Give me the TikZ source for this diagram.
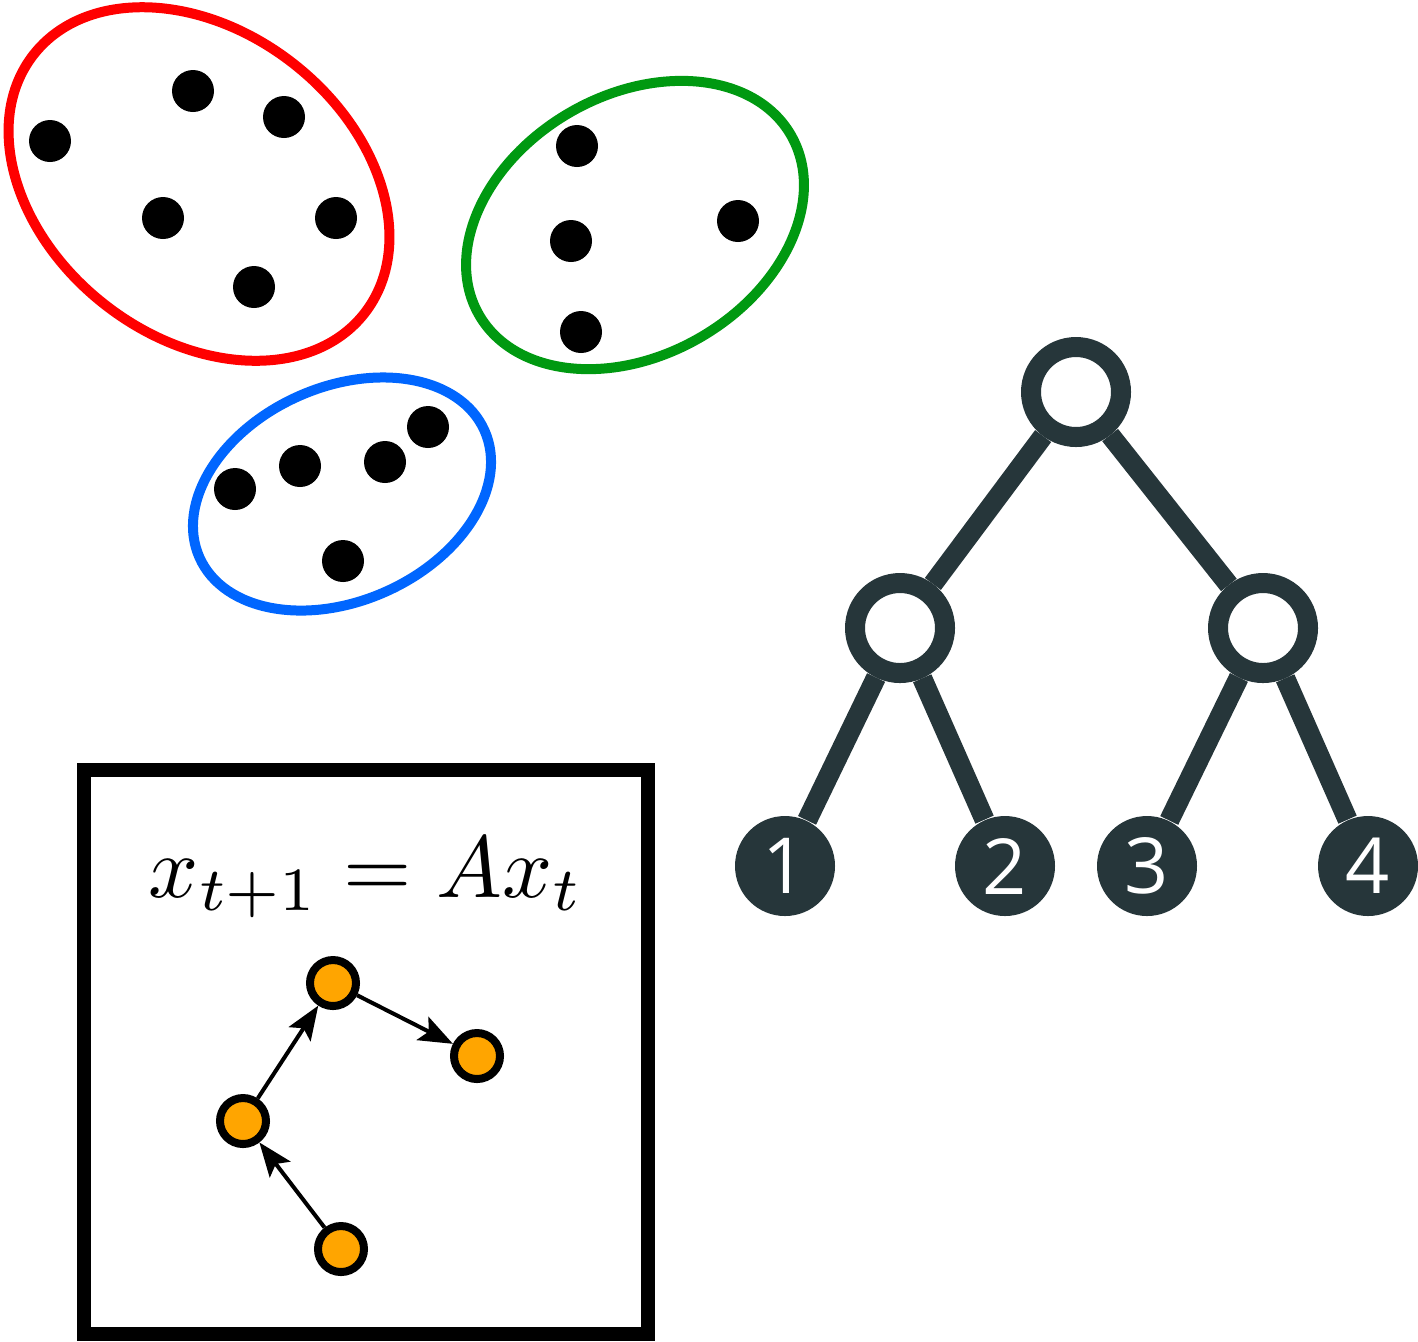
\documentclass[tikz,border=0pt]{standalone}
\usepackage{fontspec}
\newfontfamily\leaffont{Open Sans}
\usetikzlibrary{positioning,arrows.meta,calc}
\definecolor{clred}{RGB}{255,0,0}
\definecolor{clgreen}{RGB}{0,153,17}
\definecolor{clblue}{RGB}{0,102,255}
\definecolor{treegray}{RGB}{38,54,58}
\definecolor{stateorange}{RGB}{255,165,0}
\tikzset{
  cluster/.style={line width=0.1cm},
  pt/.style={circle, fill=black, inner sep=0pt, minimum size=0.42cm},
  inode/.style={circle, draw=treegray, fill=white, line width=0.2cm,
                inner sep=0pt, minimum size=0.9cm},
  leaf/.style={circle, fill=treegray, inner sep=0pt, minimum size=1cm,
               text=white, font=\leaffont\fontsize{22}{24}\selectfont},
  tedge/.style={draw=treegray, line width=0.2cm},
  state/.style={circle, draw=black, fill=stateorange, line width=0.08cm,
                inner sep=0pt, minimum size=0.46cm},
  trans/.style={-{Stealth[length=0.34cm,width=0.26cm,inset=0.07cm]}, line width=0.04cm},
}

\begin{document}
\begin{tikzpicture}
    \useasboundingbox (0,0) rectangle (14.18,-13.41);

      % clusters
      \draw[cluster,clred] (1.99,-1.84) ellipse[x radius=2.1, y radius=1.53, rotate=-38];
      \draw[cluster,clgreen] (6.35,-2.25) ellipse[x radius=1.8, y radius=1.3, rotate=30];
      \draw[cluster,clblue] (3.42,-4.94) ellipse[x radius=1.56, y radius=1.07, rotate=24];

      \foreach \x/\y [count=\i] in {0.50/1.41, 1.93/0.91, 2.84/1.17, 1.63/2.18, 3.36/2.18, 2.54/2.87}
        \node[pt] (r\i) at (\x,-\y) {};
      \foreach \x/\y [count=\i] in {5.77/1.46, 7.38/2.21, 5.71/2.41, 5.81/3.32}
        \node[pt] (g\i) at (\x,-\y) {};
      \foreach \x/\y [count=\i] in {2.35/4.89, 3.00/4.66, 3.85/4.62, 4.28/4.27, 3.43/5.61}
        \node[pt] (b\i) at (\x,-\y) {};

      % tree
      \node[inode] (root) at (10.76,-3.92) {};
      \node[inode] (left) at (9.00,-6.28) {};
      \node[inode] (right) at (12.63,-6.28) {};
      \node[leaf] (l1) at (7.85,-8.66) {1};
      \node[leaf] (l2) at (10.05,-8.66) {2};
      \node[leaf] (l3) at (11.47,-8.66) {3};
      \node[leaf] (l4) at (13.68,-8.66) {4};

      \draw[tedge] (root) -- (left);
      \draw[tedge] (root) -- (right);
      \draw[tedge] (left) -- (l1);
      \draw[tedge] (left) -- (l2);
      \draw[tedge] (right) -- (l3);
      \draw[tedge] (right) -- (l4);

      % dynamics box
      \draw[line width=0.14cm] (0.84,-7.70) rectangle (6.48,-13.34);
      \node[scale=2.5] (eq) at (3.66,-8.78) {$x_{t+1} = Ax_t$};

      \node[state] (s1) at (3.41,-12.49) {};
      \node[state] (s2) at (2.43,-11.21) {};
      \node[state] (s3) at (3.33,-9.83) {};
      \node[state] (s4) at (4.77,-10.56) {};

      \draw[trans] (s1) -- (s2);
      \draw[trans] (s2) -- (s3);
      \draw[trans] (s3) -- (s4);

    \end{tikzpicture}
\end{document}
